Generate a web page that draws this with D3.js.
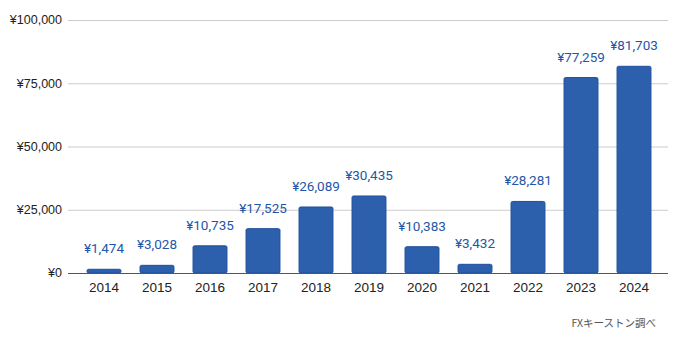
<!DOCTYPE html>
<html>
<head>
<meta charset="utf-8">
<script src="https://cdn.jsdelivr.net/npm/d3@7"></script>
<style>
  html, body { margin: 0; padding: 0; background: #fff; }
  svg { display: block; }
</style>
</head>
<body>
<svg id="chart" width="680" height="349"></svg>
<script>
const years = ["2014","2015","2016","2017","2018","2019","2020","2021","2022","2023","2024"];
const amounts = [1474, 3028, 10735, 17525, 26089, 30435, 10383, 3432, 28281, 77259, 81703];
const yTicks = [0, 25000, 50000, 75000, 100000];
const sourceNote = "FXキーストン調べ";

const svg = d3.select("#chart");
const gridLeft = 68, gridRight = 668;
const plotTop = 20, plotBottom = 273;

const x = d3.scaleBand().domain(years).range([77.5, 660.5]).paddingInner(0.36).paddingOuter(0.18);
const y = d3.scaleLinear().domain([0, 100000]).range([plotBottom, plotTop]);
const yen = v => "¥" + d3.format(",")(v);

// horizontal gridlines
svg.append("g").selectAll("line").data(yTicks.filter(t => t > 0)).join("line")
  .attr("x1", gridLeft).attr("x2", gridRight)
  .attr("y1", d => y(d) + 0.5).attr("y2", d => y(d) + 0.5)
  .attr("stroke", "#cccccc").attr("stroke-width", 1);

// y tick labels
svg.append("g").selectAll("text").data(yTicks).join("text")
  .attr("x", 62).attr("y", d => y(d)).attr("dy", "0.35em")
  .attr("text-anchor", "end")
  .attr("font-family", "Liberation Sans, Arial, sans-serif")
  .attr("font-size", 12.5).attr("fill", "#222")
  .text(yen);

// bars
svg.append("g").selectAll("rect").data(years).join("rect")
  .attr("x", d => x(d)).attr("width", x.bandwidth())
  .attr("y", (d, i) => y(amounts[i]))
  .attr("height", (d, i) => plotBottom - y(amounts[i]))
  .attr("rx", 1.5)
  .attr("fill", "#2c60ac").attr("stroke", "#1f4f9c").attr("stroke-width", 1);

// baseline
svg.append("line")
  .attr("x1", gridLeft).attr("x2", gridRight)
  .attr("y1", plotBottom + 0.5).attr("y2", plotBottom + 0.5)
  .attr("stroke", "#555").attr("stroke-width", 1.2);

// value labels
svg.append("g").selectAll("text").data(years).join("text")
  .attr("x", d => x(d) + x.bandwidth() / 2)
  .attr("y", (d, i) => y(amounts[i]) - 16)
  .attr("text-anchor", "middle")
  .attr("font-family", "Roboto, sans-serif")
  .attr("font-size", 13.5).attr("fill", "#1f56a8")
  .text((d, i) => yen(amounts[i]));

// x labels
svg.append("g").selectAll("text").data(years).join("text")
  .attr("x", d => x(d) + x.bandwidth() / 2)
  .attr("y", plotBottom + 19)
  .attr("text-anchor", "middle")
  .attr("font-family", "Liberation Sans, Arial, sans-serif")
  .attr("font-size", 13.5).attr("fill", "#222")
  .text(d => d);

// source note
svg.append("text")
  .attr("x", 656).attr("y", 327)
  .attr("text-anchor", "end")
  .attr("font-family", "Noto Sans CJK JP, sans-serif")
  .attr("font-size", 10.5).attr("fill", "#555")
  .text(sourceNote);
</script>
</body>
</html>
